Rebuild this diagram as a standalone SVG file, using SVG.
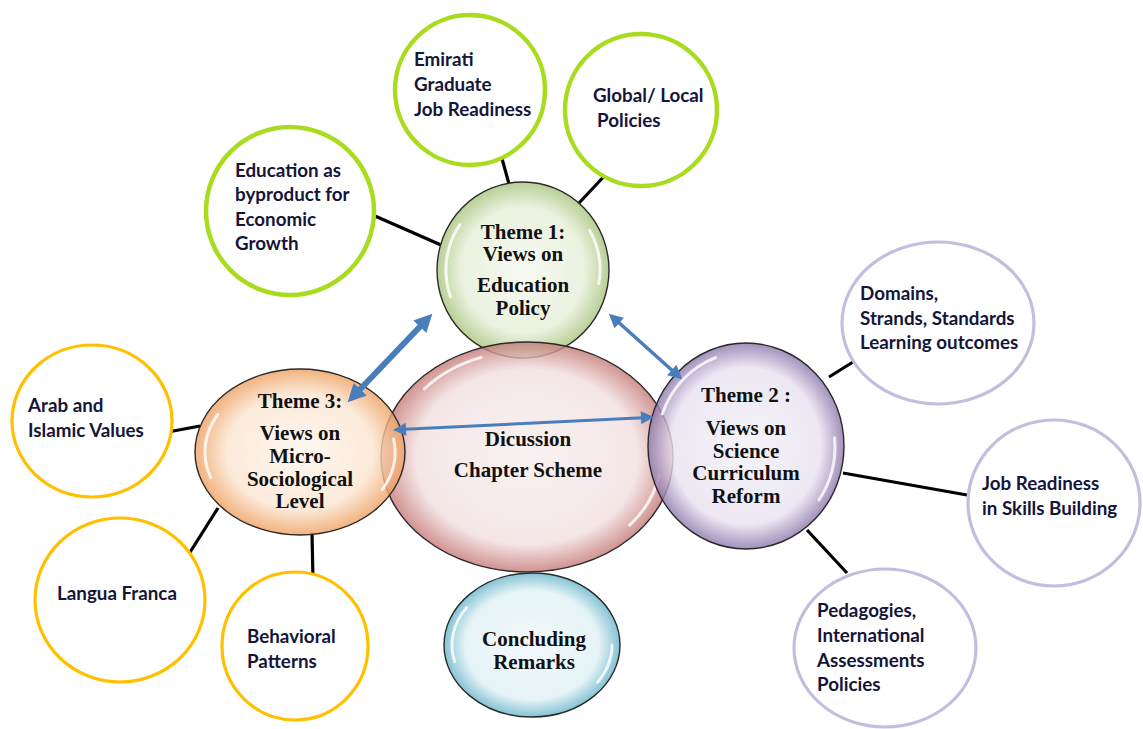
<svg xmlns="http://www.w3.org/2000/svg" width="1143" height="729" viewBox="0 0 1143 729">
<defs>
<radialGradient id="gGreen" cx="50%" cy="50%" r="50%"><stop offset="0" stop-color="#f4f8ee"/><stop offset="0.72" stop-color="#e5eed7"/><stop offset="1" stop-color="#a6c47c"/></radialGradient>
<radialGradient id="gPink" cx="50%" cy="50%" r="50%"><stop offset="0" stop-color="#f8eeee"/><stop offset="0.76" stop-color="#f2e0e0"/><stop offset="1" stop-color="#c47876"/></radialGradient>
<radialGradient id="gOrange" cx="50%" cy="50%" r="50%"><stop offset="0" stop-color="#fef6ee"/><stop offset="0.7" stop-color="#fbe4cf"/><stop offset="1" stop-color="#ee9f5f"/></radialGradient>
<radialGradient id="gPurple" cx="50%" cy="50%" r="50%"><stop offset="0" stop-color="#f3f0f7"/><stop offset="0.76" stop-color="#e8e2f0"/><stop offset="1" stop-color="#8b76ab"/></radialGradient>
<radialGradient id="gBlue" cx="50%" cy="50%" r="50%"><stop offset="0" stop-color="#f0f8fb"/><stop offset="0.76" stop-color="#dff0f5"/><stop offset="1" stop-color="#66b4c9"/></radialGradient>
<marker id="hA" viewBox="0 0 10 10" refX="5" refY="5" markerWidth="20" markerHeight="18" markerUnits="userSpaceOnUse" orient="auto-start-reverse"><path d="M0,0 L10,5 L0,10 z" fill="#4a7ebb"/></marker>
<marker id="hB" viewBox="0 0 10 10" refX="5" refY="5" markerWidth="16" markerHeight="14" markerUnits="userSpaceOnUse" orient="auto-start-reverse"><path d="M0,0 L10,5 L0,10 z" fill="#4a7ebb"/></marker>
<marker id="hC" viewBox="0 0 10 10" refX="5" refY="5" markerWidth="15" markerHeight="13" markerUnits="userSpaceOnUse" orient="auto-start-reverse"><path d="M0,0 L10,5 L0,10 z" fill="#4a7ebb"/></marker>
</defs>
<style>
.bub{stroke:#2a2a2a;stroke-width:1.4;fill-opacity:0.8}
.hl{fill:none;stroke:#ffffff;stroke-width:3;stroke-opacity:0.8;stroke-linecap:round}
.th{font-family:"Liberation Serif","Times New Roman",serif;font-weight:bold;font-size:21px;fill:#111;text-anchor:middle}
.ot{font-family:Lato,"Liberation Sans",sans-serif;font-weight:bold;font-size:18.8px;fill:#15153a}
.grn{fill:#fff;stroke:#a8dc1e;stroke-width:4.5}
.yel{fill:#fff;stroke:#ffc000;stroke-width:3.2}
.pur{fill:#fff;stroke:#c5bde0;stroke-width:3.2}
.con line{stroke:#000;stroke-width:3.2}
.arr{stroke:#4a7ebb;fill:none}
</style>

<g id="connectors" class="con">
<line x1="375" y1="216" x2="441" y2="245"/>
<line x1="501" y1="155" x2="509" y2="184"/>
<line x1="610" y1="170" x2="579" y2="203"/>
<line x1="829" y1="377" x2="861" y2="357"/>
<line x1="843" y1="473" x2="967" y2="495"/>
<line x1="807" y1="530" x2="847" y2="573"/>
<line x1="168" y1="432" x2="200" y2="426"/>
<line x1="187" y1="557" x2="218" y2="508"/>
<line x1="312" y1="533" x2="313" y2="580"/>
</g>

<g id="n-edu"><circle class="grn" cx="290" cy="211" r="84"/>
<text class="ot"><tspan x="235" y="177">Education as</tspan><tspan x="235" y="201">byproduct for</tspan><tspan x="235" y="226">Economic</tspan><tspan x="235" y="250">Growth</tspan></text></g>
<g id="n-emirati"><circle class="grn" cx="470" cy="90" r="75"/>
<text class="ot"><tspan x="414" y="66">Emirati</tspan><tspan x="414" y="91">Graduate</tspan><tspan x="414" y="116">Job Readiness</tspan></text></g>
<g id="n-global"><circle class="grn" cx="641" cy="110" r="76"/>
<text class="ot"><tspan x="593" y="102">Global/ Local</tspan><tspan x="597" y="127">Policies</tspan></text></g>

<g id="n-domains"><ellipse class="pur" cx="938" cy="323" rx="96" ry="81"/>
<text class="ot"><tspan x="860" y="300">Domains,</tspan><tspan x="860" y="325">Strands, Standards</tspan><tspan x="860" y="349">Learning outcomes</tspan></text></g>
<g id="n-jobskills"><ellipse class="pur" cx="1054" cy="503" rx="86" ry="83"/>
<text class="ot"><tspan x="982" y="490">Job Readiness</tspan><tspan x="982" y="515">in Skills Building</tspan></text></g>
<g id="n-pedagogies"><ellipse class="pur" cx="885" cy="648" rx="91" ry="79"/>
<text class="ot"><tspan x="817" y="617">Pedagogies,</tspan><tspan x="817" y="642">International</tspan><tspan x="817" y="667">Assessments</tspan><tspan x="817" y="691">Policies</tspan></text></g>

<g id="n-arab"><ellipse class="yel" cx="92" cy="421" rx="80" ry="76"/>
<text class="ot"><tspan x="28" y="412">Arab and</tspan><tspan x="28" y="437">Islamic Values</tspan></text></g>
<g id="n-langua"><ellipse class="yel" cx="120" cy="600" rx="85" ry="82"/>
<text class="ot" x="57" y="600">Langua Franca</text></g>
<g id="n-behavioral"><ellipse class="yel" cx="295" cy="646" rx="73" ry="74"/>
<text class="ot"><tspan x="247" y="643">Behavioral</tspan><tspan x="247" y="668">Patterns</tspan></text></g>

<g id="n-theme1"><ellipse class="bub" cx="523" cy="270" rx="86" ry="88" fill="url(#gGreen)"/>
<path class="hl" d="M450.6,297 A77,79 0 0 1 459.9,224.7"/><path class="hl" d="M589.7,230.5 A77,79 0 0 1 598.8,283.7"/>
<text class="th"><tspan x="523" y="239">Theme 1:</tspan><tspan x="523" y="261">Views on</tspan><tspan x="523" y="292">Education</tspan><tspan x="523" y="315">Policy</tspan></text></g>

<g id="n-discussion"><ellipse class="bub" cx="527" cy="457" rx="146" ry="115" fill="url(#gPink)"/>
<path class="hl" d="M424.4,388.8 A134,106 0 0 1 481.2,357.4"/><path class="hl" d="M659,475.4 A134,106 0 0 1 629.6,525.2"/>
<text class="th"><tspan x="528" y="446">Dicussion</tspan><tspan x="528" y="477">Chapter Scheme</tspan></text></g>

<g id="n-theme3"><ellipse class="bub" cx="300" cy="452" rx="105" ry="83" fill="url(#gOrange)"/>
<path class="hl" d="M210.7,477.7 A95,75 0 0 1 217.7,414.5"/><path class="hl" d="M393.6,439 A95,75 0 0 1 382.3,489.5"/>
<text class="th"><tspan x="300" y="408">Theme 3:</tspan><tspan x="300" y="440">Views on</tspan><tspan x="300" y="463">Micro-</tspan><tspan x="300" y="486">Sociological</tspan><tspan x="300" y="508">Level</tspan></text></g>

<g id="n-theme2"><ellipse class="bub" cx="746" cy="446" rx="98" ry="103" fill="url(#gPurple)"/>
<path class="hl" d="M662.3,413.9 A89,94 0 0 1 715.6,357.6"/><path class="hl" d="M834.6,437.8 A89,94 0 0 1 818.9,500"/>
<text class="th"><tspan x="746" y="402">Theme 2 :</tspan><tspan x="746" y="435">Views on</tspan><tspan x="746" y="458">Science</tspan><tspan x="746" y="480">Curriculum</tspan><tspan x="746" y="503">Reform</tspan></text></g>

<g id="n-concluding"><ellipse class="bub" cx="532" cy="645" rx="88" ry="72" fill="url(#gBlue)"/>
<path class="hl" d="M454.7,661.8 A80,65 0 0 1 466.5,607.7"/><path class="hl" d="M612,645 A80,65 0 0 1 597.5,682.3"/>
<text class="th"><tspan x="534" y="646">Concluding</tspan><tspan x="534" y="669">Remarks</tspan></text></g>

<g id="arrows">
<line class="arr" x1="353.9" y1="395.8" x2="426.1" y2="320.2" stroke-width="6" marker-start="url(#hA)" marker-end="url(#hA)"/>
<line class="arr" x1="614" y1="318.3" x2="677" y2="374.7" stroke-width="3.5" marker-start="url(#hB)" marker-end="url(#hB)"/>
<line class="arr" x1="399.5" y1="429.6" x2="647.5" y2="417.4" stroke-width="3" marker-start="url(#hC)" marker-end="url(#hC)"/>
</g>
</svg>
